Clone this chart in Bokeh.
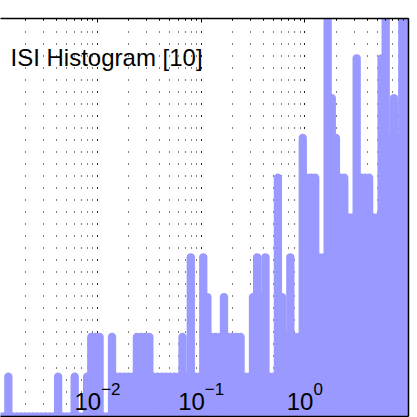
import numpy as np
from bokeh.plotting import figure
from bokeh.models import (Range1d, LogAxis, LinearAxis, Label, FixedTicker,
                          CustomJSTickFormatter)
from bokeh.embed import file_html
from bokeh.resources import INLINE
from bokeh.core.properties import value

# ---- data ----
title_text = "ISI Histogram [10]"
# 100 logarithmic bins from 10^-3 to 10^1
bin_lo_exp = -3
bin_hi_exp = 1
n_bins = 100
counts = [
    0, 0, 0, 1, 0, 0, 0, 0, 0, 0,
    0, 0, 0, 0, 0, 1, 0, 0, 0, 1,
    0, 0, 1, 2, 2, 2, 0, 0, 2, 1,
    1, 1, 1, 1, 2, 2, 2, 2, 1, 1,
    1, 1, 1, 1, 1, 2, 1, 4, 1, 1,
    4, 3, 2, 2, 2, 3, 2, 2, 2, 2,
    1, 1, 3, 4, 3, 4, 1, 1, 6, 3,
    2, 4, 2, 2, 7, 6, 6, 6, 4, 4,
    10, 8, 7, 6, 6, 5, 5, 9, 6, 6,
    6, 5, 5, 9, 10, 7, 8, 7, 10, 10,
]
tick_values = [0.01, 0.1, 1.0]
tick_base = ["10", "10", "10"]
tick_exp = ["\u22122", "\u22121", "0"]

edges = np.logspace(bin_lo_exp, bin_hi_exp, n_bins + 1)
centers = np.sqrt(edges[:-1] * edges[1:])

BAR = "#9999ff"
FONT = "Liberation Sans"
empty_fmt = CustomJSTickFormatter(code="return '';")

p = figure(width=417, height=417, x_axis_type="log", x_axis_location="above",
           y_axis_location=None,
           x_range=Range1d(10 ** -2.9357, 10), y_range=Range1d(0, 10),
           output_backend="svg", toolbar_location=None,
           min_border_left=0, min_border_right=9, min_border_top=18, min_border_bottom=1,
           outline_line_color=None, background_fill_color="white",
           border_fill_color="white")

# top axis: inward ticks, no labels
ax = p.xaxis[0]
ax.formatter = empty_fmt
ax.major_label_standoff = 0
ax.major_tick_out = 0
ax.minor_tick_out = 0
ax.major_tick_in = 4
ax.minor_tick_in = 2
ax.axis_line_color = "black"
ax.axis_line_width = 1.5
ax.major_tick_line_color = "black"
ax.minor_tick_line_color = "black"

def bare(axis):
    axis.ticker = FixedTicker(ticks=[])
    axis.major_label_standoff = 0
    axis.major_tick_out = 0
    axis.minor_tick_out = 0
    axis.major_tick_in = 0
    axis.minor_tick_in = 0
    axis.axis_line_color = "black"
    axis.axis_line_width = 1.5
    return axis

p.add_layout(bare(LogAxis()), "below")
p.add_layout(bare(LinearAxis()), "right")

# dotted vertical grid at major and minor log ticks
g = p.xgrid[0]
g.grid_line_color = "black"
g.grid_line_dash = "1 11"
g.grid_line_width = 1
g.minor_grid_line_color = "black"
g.minor_grid_line_dash = "1 11"
g.minor_grid_line_width = 1
p.ygrid.visible = False

# histogram bars: thick lines with round caps
p.segment(x0=centers, y0=np.zeros(n_bins), x1=centers, y1=counts,
          line_color=BAR, line_width=8.3, line_cap="round")

# tick labels drawn inside the plot
base_w = 24 * 1.112
exp_w = [17 * (0.584 + 0.556 * (len(t) - 1)) if t.startswith("\u2212") else 17 * 0.556 * len(t)
         for t in tick_exp]
base_off = [-(base_w + w) / 2 for w in exp_w]
exp_off = [-(base_w + w) / 2 + base_w for w in exp_w]
p.text(x=tick_values, y=[0] * len(tick_values), text=tick_base, x_offset=base_off, y_offset=-15,
       text_font=value(FONT), text_font_size="24px", text_color="black",
       text_align="left", text_baseline="alphabetic")
p.text(x=tick_values, y=[0] * len(tick_values), text=tick_exp, x_offset=exp_off, y_offset=-28,
       text_font=value(FONT), text_font_size="17px", text_color="black",
       text_align="left", text_baseline="alphabetic")

p.add_layout(Label(x=10, y=359, x_units="screen", y_units="screen", text=title_text,
                   text_font=FONT, text_font_size="24px", text_color="black",
                   text_baseline="alphabetic"))

open("out.html", "w").write(file_html(p, INLINE))
